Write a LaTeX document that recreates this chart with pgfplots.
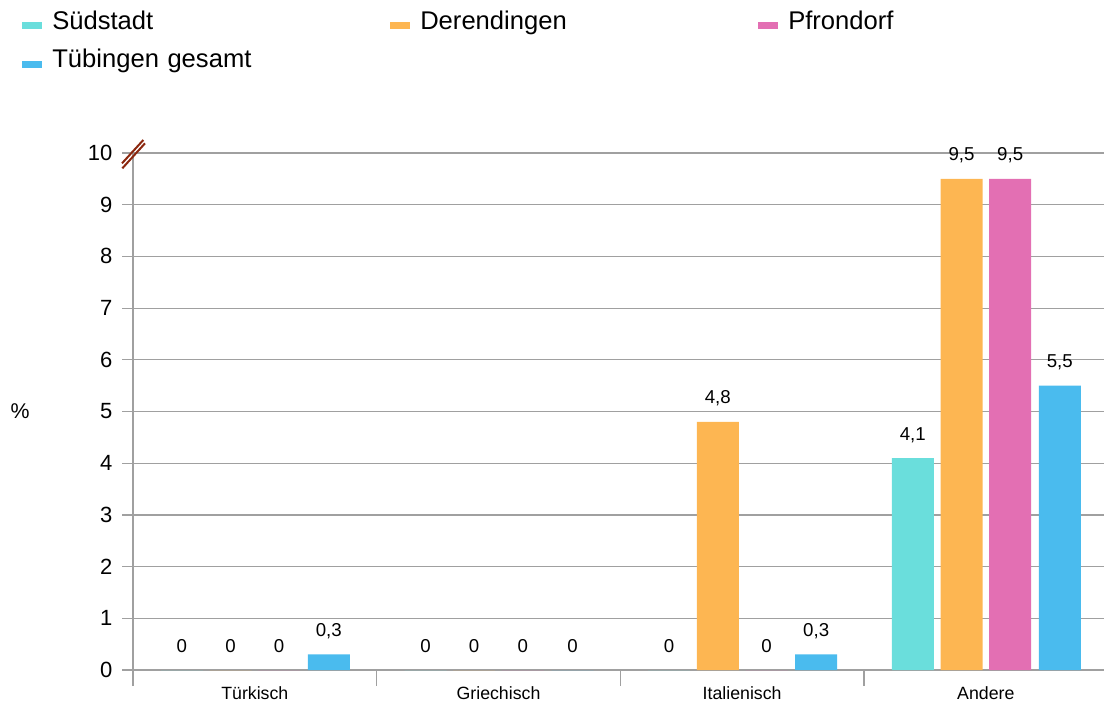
\documentclass[border=0pt]{standalone}
\usepackage{pgfplots}
\pgfplotsset{compat=1.18}
\usepackage{fontspec}
\setmainfont{Liberation Sans}

\definecolor{cSued}{RGB}{106,222,220}
\definecolor{cDer}{RGB}{253,182,82}
\definecolor{cPfr}{RGB}{227,111,179}
\definecolor{cTue}{RGB}{74,187,238}
\definecolor{gridgray}{RGB}{160,160,160}
\definecolor{brk}{RGB}{140,40,15}

\begin{document}
\begin{tikzpicture}
\useasboundingbox (0pt,0pt) rectangle (828pt,-526.5pt);
\begin{axis}[
    at={(99.75pt,-502.5pt)}, anchor=south west,
    scale only axis, width=731pt, height=387.75pt,
    xmin=-0.5, xmax=3.5, ymin=0, ymax=10,
    clip=false,
    ybar, bar width=31.5pt,
    axis x line*=bottom, axis y line*=left,
    axis line style={gridgray, line width=0.9pt},
    ymajorgrids, grid style={gridgray, line width=0.9pt},
    xtick={0,1,2,3},
    xticklabels={Türkisch,Griechisch,Italienisch,Andere},
    minor xtick={-0.5,0.5,1.5,2.5,3.5},
    ytick={0,1,...,10},
    tick align=outside,
    major tick length=8pt, minor tick length=12pt,
    major x tick style={draw=none},
    tick style={gridgray, line width=0.9pt},
    /pgf/number format/assume math mode=true,
    yticklabel style={font=\fontsize{16.5}{19}\selectfont, xshift=-4pt},
    xticklabel style={font=\fontsize{13.3}{16}\selectfont, yshift=-1pt},
    ylabel={\%},
    every axis y label/.style={at={(rel axis cs:0,0.5)}, anchor=center,
        xshift=-84.75pt, font=\fontsize{16}{19}\selectfont},
    nodes near coords={\pgfmathprintnumber[fixed,precision=1,use comma]{\pgfplotspointmeta}},
    every node near coord/.append style={font=\fontsize{14}{17}\selectfont,
        anchor=base, yshift=13.5pt, black},
    legend columns=3,
    legend image code/.code={\fill[#1] (0pt,0pt) rectangle (15pt,5.25pt);},
    legend style={draw=none, fill=none, inner sep=0pt,
        at={(rel axis cs:0,1)}, anchor=north west,
        xshift=-83.25pt, yshift=100.5pt,
        font=\fontsize{19.2}{23}\selectfont,
        row sep=19pt,
        nodes={inner sep=0pt, anchor=base, text height=0.75em, text depth=0.25em},
        /tikz/every odd column/.append style={column sep=7.5pt},
        /tikz/every even column/.append style={text width=253.5pt}},
    legend cell align=left,
]
\addplot[fill=cSued, draw=none, bar shift=-54.75pt] coordinates {(0,0) (1,0) (2,0) (3,4.1)};
\addplot[fill=cDer,  draw=none, bar shift=-18.25pt] coordinates {(0,0) (1,0) (2,4.8) (3,9.5)};
\addplot[fill=cPfr,  draw=none, bar shift=18.25pt]  coordinates {(0,0) (1,0) (2,0) (3,9.5)};
\addplot[fill=cTue,  draw=none, bar shift=55.5pt]  coordinates {(0,0.3) (1,0) (2,0.3) (3,5.5)};
\legend{Südstadt,Derendingen,Pfrondorf,Tübingen gesamt}
\end{axis}
\draw[brk, line width=1.5pt] (91.5pt,-122.5pt) -- (107.5pt,-105pt);
\draw[brk, line width=1.5pt] (91.75pt,-126.25pt) -- (108.75pt,-107.5pt);
\end{tikzpicture}
\end{document}
